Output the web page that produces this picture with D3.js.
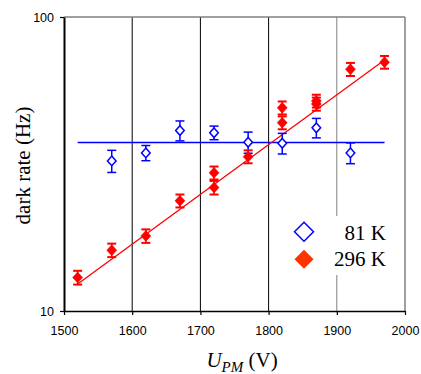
<!DOCTYPE html>
<html><head><meta charset="utf-8">
<script src="https://cdn.jsdelivr.net/npm/d3@7"></script>
<style>body{margin:0;background:#fff}</style></head>
<body>
<svg id="c" width="421" height="374"></svg>
<script>
// ---- data ----
const xTicks = [1500, 1600, 1700, 1800, 1900, 2000];
const yTicks = [10, 100];
// [U_PM (V), dark rate (Hz), error (Hz)]
const series81 = [
  [1570, 32.4, 2.8], [1620, 34.5, 2.05], [1670, 41.1, 3.2], [1720, 40.4, 2.15],
  [1770, 37.5, 3.1], [1820, 37.2, 3.0], [1870, 42.0, 3.2], [1920, 34.5, 2.8]
];
const series296 = [
  [1520, 13.0, 0.7], [1570, 16.1, 0.85], [1620, 18.0, 0.95], [1670, 23.7, 1.2],
  [1720, 26.3, 1.4], [1720, 29.5, 1.5], [1770, 33.5, 1.7], [1820, 43.7, 2.2],
  [1820, 49.1, 2.5], [1870, 50.6, 2.6], [1870, 51.8, 2.6], [1920, 66.4, 3.4],
  [1970, 70.2, 3.5]
];
const fit81 = [[1520, 37.4], [1970, 37.4]];
const fit296 = [[1520, 12.35], [1970, 71.4]];
const legendLabels = ["81 K", "296 K"];

// ---- layout ----
const L = 64, R = 405, T = 17, B = 311;
const svg = d3.select("#c");
const x = d3.scaleLinear().domain([1500, 2000]).range([L, R]);
const y = d3.scaleLog().domain([10, 100]).range([B, T]);
const sans = "'Liberation Sans', Arial, Helvetica, sans-serif";
const serif = "'Liberation Serif', 'Times New Roman', serif";

// gridlines / frame
const gridColor = d => (d >= 1900 ? "#808080" : "#000");
svg.append("g").selectAll("line").data(xTicks.filter(d => d > 1500)).join("line")
  .attr("x1", d => x(d)).attr("x2", d => x(d)).attr("y1", T).attr("y2", B)
  .attr("stroke", gridColor).attr("stroke-width", d => d === 2000 ? 1.5 : 1);
svg.append("line").attr("x1", L).attr("x2", R).attr("y1", T).attr("y2", T)
  .attr("stroke", "#808080").attr("stroke-width", 1.5);

// axes
const ax = svg.append("g").attr("transform", `translate(0,${B})`)
  .call(d3.axisBottom(x).tickValues(xTicks).tickSize(4).tickSizeOuter(0).tickPadding(11).tickFormat(d3.format("d")));
ax.select(".domain").attr("stroke", "#000").attr("stroke-width", 1.5);
ax.selectAll(".tick line").attr("stroke", "#000").attr("stroke-width", 1.2);
ax.selectAll("text").attr("font-family", sans).attr("font-size", 12.5).attr("fill", "#000");

const ay = svg.append("g").attr("transform", `translate(${L},0)`)
  .call(d3.axisLeft(y).tickValues(yTicks).tickSize(4).tickSizeOuter(0).tickPadding(6).tickFormat(d3.format("d")));
ay.select(".domain").attr("stroke", "#000").attr("stroke-width", 2);
ay.selectAll(".tick line").attr("stroke", "#000").attr("stroke-width", 1.2);
ay.selectAll("text").attr("font-family", sans).attr("font-size", 12.5).attr("fill", "#000");

// titles
svg.append("text").attr("transform", "translate(30,165.5) rotate(-90)")
  .attr("text-anchor", "middle").attr("font-family", serif).attr("font-size", 21)
  .text("dark rate (Hz)");
const xt = svg.append("text").attr("x", 242).attr("y", 367).attr("text-anchor", "middle")
  .attr("font-family", serif).attr("font-size", 21);
xt.append("tspan").attr("font-style", "italic").text("U");
xt.append("tspan").attr("font-style", "italic").attr("font-size", 15).attr("dy", 5).text("PM");
xt.append("tspan").attr("dy", -5).text(" (V)");

// fit lines
const line = d3.line().x(d => x(d[0])).y(d => y(d[1]));
svg.append("path").datum(fit81).attr("d", line).attr("fill", "none").attr("stroke", "#0000ff").attr("stroke-width", 1.5);
svg.append("path").datum(fit296).attr("d", line).attr("fill", "none").attr("stroke", "#ff0000").attr("stroke-width", 1.3);

const diamond = (cx, cy, hw, hh) => `M${cx},${cy - hh}L${cx + hw},${cy}L${cx},${cy + hh}L${cx - hw},${cy}Z`;

function drawSeries(data, color, filled) {
  const g = svg.append("g");
  const eb = g.selectAll("g.eb").data(data).join("g");
  eb.append("line").attr("x1", d => x(d[0])).attr("x2", d => x(d[0]))
    .attr("y1", d => y(d[1] + d[2])).attr("y2", d => y(d[1] - d[2]))
    .attr("stroke", color).attr("stroke-width", 1.5);
  eb.append("line").attr("x1", d => x(d[0]) - 4.5).attr("x2", d => x(d[0]) + 4.5)
    .attr("y1", d => y(d[1] + d[2])).attr("y2", d => y(d[1] + d[2]))
    .attr("stroke", color).attr("stroke-width", filled ? 2 : 1.5);
  eb.append("line").attr("x1", d => x(d[0]) - 4.5).attr("x2", d => x(d[0]) + 4.5)
    .attr("y1", d => y(d[1] - d[2])).attr("y2", d => y(d[1] - d[2]))
    .attr("stroke", color).attr("stroke-width", filled ? 2 : 1.5);
  g.selectAll("path").data(data).join("path")
    .attr("d", d => filled ? diamond(x(d[0]), y(d[1]), 5, 5.5) : diamond(x(d[0]), y(d[1]), 4.3, 4.8))
    .attr("fill", filled ? color : "#fff").attr("stroke", color).attr("stroke-width", filled ? 0.5 : 1.5);
}
drawSeries(series81, "#0000ff", false);
drawSeries(series296, "#ff0000", true);

// legend
const lg = svg.append("g");
lg.append("rect").attr("x", 291).attr("y", 216).attr("width", 100).attr("height", 59).attr("fill", "#fff");
lg.append("path").attr("d", diamond(304, 231.7, 9.5, 9.5)).attr("fill", "#fff").attr("stroke", "#0000ff").attr("stroke-width", 1.5);
lg.append("path").attr("d", diamond(304, 259.3, 9.5, 9.5)).attr("fill", "#ff3300");
lg.selectAll("text").data(legendLabels).join("text")
  .attr("x", 386).attr("y", (d, i) => 240 + i * 26).attr("text-anchor", "end")
  .attr("font-family", serif).attr("font-size", 21).attr("fill", "#000").text(d => d);
</script>
</body></html>
